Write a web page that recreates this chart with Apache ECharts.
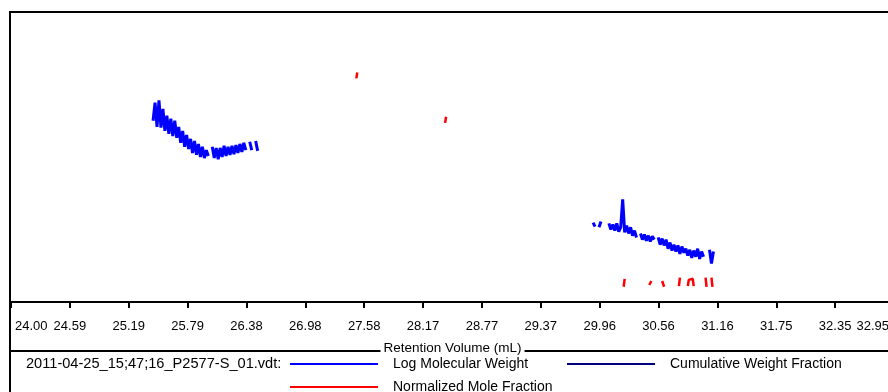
<!DOCTYPE html>
<html><head><meta charset="utf-8">
<script src="https://cdn.jsdelivr.net/npm/echarts@6/dist/echarts.min.js"></script>
<style>html,body{margin:0;padding:0;background:#fff}#c{width:888px;height:392px}</style>
</head><body><div id="c"></div>
<script>
// ---- tick labels ----
const xTickLabels = ['24.00','24.59','25.19','25.79','26.38','26.98','27.58','28.17','28.77','29.37','29.96','30.56','31.16','31.75','32.35','32.95'];
const axisMin = 24.00, axisMax = 32.95;

// ---- Log Molecular Weight, first peak ----
const lmwVolume1 = [25.44,25.46,25.48,25.50,25.52,25.54,25.56,25.58,25.60,25.62,25.64,25.66,25.68,25.70,25.72,25.74,25.76,25.78,25.80,25.82,25.84,25.86,25.88,25.90,25.92,25.94,25.96,25.98,26.00,26.02,26.04,26.06,26.08,26.10,26.12,26.14,26.16,26.18,26.20,26.22,26.24,26.26,26.28,26.30,26.32,26.34,26.36,26.38,26.40,26.42,26.44,26.46,26.48,26.50];
const lmwValue1 = [5.00,5.50,4.83,5.56,4.81,5.33,4.72,5.14,4.64,5.06,4.58,5.00,4.53,4.83,4.39,4.72,4.28,4.61,4.22,4.50,4.11,4.44,4.06,4.36,4.00,4.28,3.97,4.19,4.03,null,4.28,3.97,4.25,3.94,4.25,4.00,4.31,4.03,4.28,4.06,4.31,4.08,4.33,4.11,4.36,4.14,4.39,4.19,null,4.42,4.19,null,4.44,4.17];

// ---- Log Molecular Weight, second peak ----
const lmwVolume2 = [29.90,29.92,29.94,29.96,29.98,30.00,30.02,30.04,30.06,30.08,30.10,30.12,30.14,30.16,30.18,30.20,30.22,30.24,30.26,30.28,30.30,30.32,30.34,30.36,30.38,30.40,30.42,30.44,30.46,30.48,30.50,30.52,30.54,30.56,30.58,30.60,30.62,30.64,30.66,30.68,30.70,30.72,30.74,30.76,30.78,30.80,30.82,30.84,30.86,30.88,30.90,30.92,30.94,30.96,30.98,31.00,31.02,31.04,31.06,31.08,31.10,31.12];
const lmwValue2 = [2.19,2.08,null,2.06,2.22,null,null,null,2.17,2.00,2.14,1.97,2.17,1.94,2.06,2.83,1.92,2.11,1.89,2.06,1.83,1.97,1.78,null,1.89,1.72,1.86,1.69,1.83,1.67,1.81,1.72,null,1.78,1.58,1.75,1.56,1.72,1.47,1.64,1.42,1.58,1.39,1.56,1.33,1.53,1.36,1.47,1.28,1.44,1.22,1.42,1.25,1.47,1.19,1.39,1.25,null,null,1.44,1.06,1.39];

// ---- Normalized Mole Fraction (null = gap) ----
const nmfVolume = [27.50,27.51,null,28.40,28.41,null,30.21,30.22,null,30.47,30.49,null,30.60,30.62,null,30.77,30.78,null,30.86,30.87,30.89,30.91,30.92,null,31.04,31.05,null,31.10,31.11];
const nmfValue  = [6.17,6.33,null,4.94,5.11,null,0.42,0.64,null,0.47,0.58,null,0.58,0.42,null,0.44,0.67,null,0.44,0.61,0.56,0.64,0.44,null,0.67,0.42,null,0.67,0.42];

// ---- Cumulative Weight Fraction (no visible data) ----
const cwfVolume = [];
const cwfValue = [];

const fileLabel = '2011-04-25_15;47;16_P2577-S_01.vdt:';

function pairs(xs, ys) {
  return xs.map((x, i) => (ys[i] == null || x == null) ? [xs[i - 1] != null ? xs[i - 1] : 0, '-'] : [x, ys[i]]);
}
const lmwData = pairs(lmwVolume1, lmwValue1).concat([[26.5, '-']], pairs(lmwVolume2, lmwValue2));
const nmfData = pairs(nmfVolume, nmfValue);
const cwfData = pairs(cwfVolume, cwfValue);

const FONT = '"Liberation Sans", Arial, sans-serif';
const tickStep = (axisMax - axisMin) / (xTickLabels.length - 1);
const tickValues = xTickLabels.map((_, k) => axisMin + k * tickStep);

const legendCommon = {
  icon: 'rect', itemWidth: 88, itemHeight: 2, itemGap: 0, padding: 0, selectedMode: false,
  textStyle: { color: '#000', fontSize: 14, fontFamily: FONT, padding: [0, 0, 0, 10] }
};

const chart = echarts.init(document.getElementById('c'), null, { renderer: 'canvas' });
chart.setOption({
  animation: false,
  grid: { left: 11, top: 12, width: 883, height: 290, outerBoundsMode: 'none', containLabel: false },
  xAxis: {
    type: 'value', min: axisMin, max: axisMax, z: 5,
    name: 'Retention Volume (mL)', nameLocation: 'middle', nameGap: 39,
    nameTextStyle: { color: '#000', fontSize: 13.5, fontFamily: FONT, backgroundColor: '#fff', padding: [0, 3] },
    axisLine: { lineStyle: { color: '#000', width: 2 } },
    axisTick: { show: true, length: 6, lineStyle: { color: '#000', width: 2 }, customValues: tickValues },
    axisLabel: {
      customValues: tickValues,
      formatter: v => {
        const k = Math.round((v - axisMin) / tickStep);
        const t = xTickLabels[k];
        if (k === 0) return '{first|' + t + '}';
        if (k === xTickLabels.length - 1) return '{last|' + t + '}';
        return t;
      },
      rich: {
        first: { color: '#000', fontSize: 13, fontFamily: FONT, padding: [0, 0, 0, 4] },
        last: { color: '#000', fontSize: 13, fontFamily: FONT, padding: [0, 5, 0, 0] }
      },
      color: '#000', fontSize: 13, fontFamily: FONT, margin: 18,
      alignMinLabel: 'left', alignMaxLabel: 'right', hideOverlap: false
    },
    splitLine: { show: false }
  },
  yAxis: { type: 'value', min: 0, max: 8, show: false },
  legend: [
    Object.assign({ left: 290, top: 357, data: ['Log Molecular Weight'] }, legendCommon),
    Object.assign({ left: 567, top: 357, data: ['Cumulative Weight Fraction'] }, legendCommon),
    Object.assign({ left: 290, top: 380, data: ['Normalized Mole Fraction'] }, legendCommon)
  ],
  graphic: [
    { type: 'line', z: -1, shape: { x1: 10, y1: 12, x2: 888, y2: 12 }, style: { stroke: '#000', lineWidth: 2 } },
    { type: 'line', z: -1, shape: { x1: 10, y1: 11, x2: 10, y2: 392 }, style: { stroke: '#000', lineWidth: 2 } },
    { type: 'line', z: -1, shape: { x1: 10, y1: 351, x2: 888, y2: 351 }, style: { stroke: '#000', lineWidth: 2 } },
    { type: 'text', left: 26, top: 356, style: { text: fileLabel, font: '14.6px ' + FONT, fill: '#000' } }
  ],
  series: [
    { name: 'Log Molecular Weight', type: 'line', data: lmwData, symbol: 'none', color: '#0000ff',
      lineStyle: { color: '#0000ff', width: 3 }, connectNulls: false },
    { name: 'Cumulative Weight Fraction', type: 'line', data: cwfData, symbol: 'none', color: '#000080',
      lineStyle: { color: '#000080', width: 2 } },
    { name: 'Normalized Mole Fraction', type: 'line', data: nmfData, symbol: 'none', color: '#ff0000',
      lineStyle: { color: '#ff0000', width: 2.5 }, connectNulls: false }
  ]
});
</script></body></html>
